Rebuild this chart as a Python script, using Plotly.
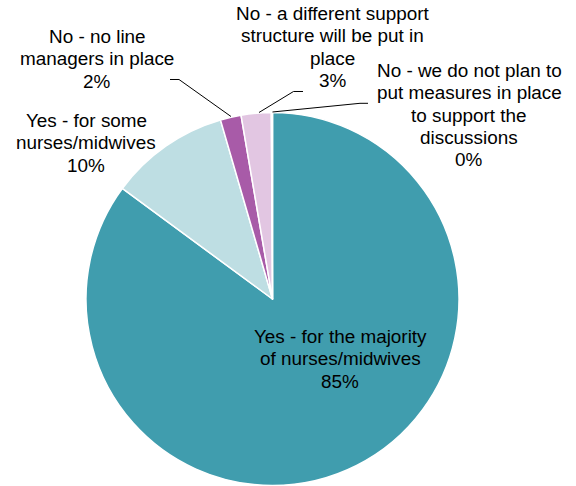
import plotly.graph_objects as go

W, H = 576, 486

categories = [
    "Yes - for the majority of nurses/midwives",
    "Yes - for some nurses/midwives",
    "No - no line managers in place",
    "No - a different support structure will be put in place",
    "No - we do not plan to put measures in place to support the discussions",
]
values = [85.1, 10.4, 1.8, 2.6, 0.1]
colors = ["#409DAE", "#BEDEE3", "#A85BA8", "#E2C6E2", "#D9D9D9"]

# label text lines (category wrapped) + percent
label_lines = [
    ["Yes - for the majority", "of nurses/midwives"],
    ["Yes - for some", "nurses/midwives"],
    ["No - no line", "managers in place"],
    ["No - a different support", "structure will be put in", "place"],
    ["No - we do not plan to", "put measures in place", "to support the", "discussions"],
]
# label placement (pixel centre x, first line centre y)
label_pos = [(340, 336.5), (86, 120.5), (97, 36.5), (332.5, 13.5), (469, 70.5)]
line_step = 22.3

total = sum(values)
pct_text = [f"{round(v / total * 100)}%" for v in values]

fig = go.Figure(go.Pie(
    labels=categories,
    values=values,
    sort=False,
    direction="clockwise",
    rotation=0,
    marker=dict(colors=colors, line=dict(color="white", width=1.5)),
    textinfo="none",
    hoverinfo="label+percent",
    showlegend=False,
    domain=dict(x=[0.1493, 0.7969], y=[0.0, 0.7695]),
))

annotations = []
for lines, pct, (cx, cy) in zip(label_lines, pct_text, label_pos):
    for i, t in enumerate(lines + [pct]):
        annotations.append(dict(
            x=cx / W, y=1 - (cy + i * line_step) / H,
            xref="paper", yref="paper",
            text=t, showarrow=False,
            xanchor="center", yanchor="middle",
            font=dict(family="Liberation Sans, Arial, sans-serif", size=18.9, color="#000000"),
        ))

leaders = [
    [(170, 79.5), (179, 79.5), (231, 116.5)],
    [(303, 91.5), (293.5, 91.5), (259, 112.5)],
    [(368, 103.3), (360, 103.3), (272.5, 112)],
]
shapes = []
for pts in leaders:
    path = "M " + " L ".join(f"{x / W:.5f},{1 - y / H:.5f}" for x, y in pts)
    shapes.append(dict(type="path", path=path, xref="paper", yref="paper",
                       line=dict(color="#000000", width=1)))

fig.update_layout(
    width=W, height=H,
    margin=dict(l=0, r=0, t=0, b=0),
    paper_bgcolor="white", plot_bgcolor="white",
    annotations=annotations,
    shapes=shapes,
)

fig.write_html("out.html")
